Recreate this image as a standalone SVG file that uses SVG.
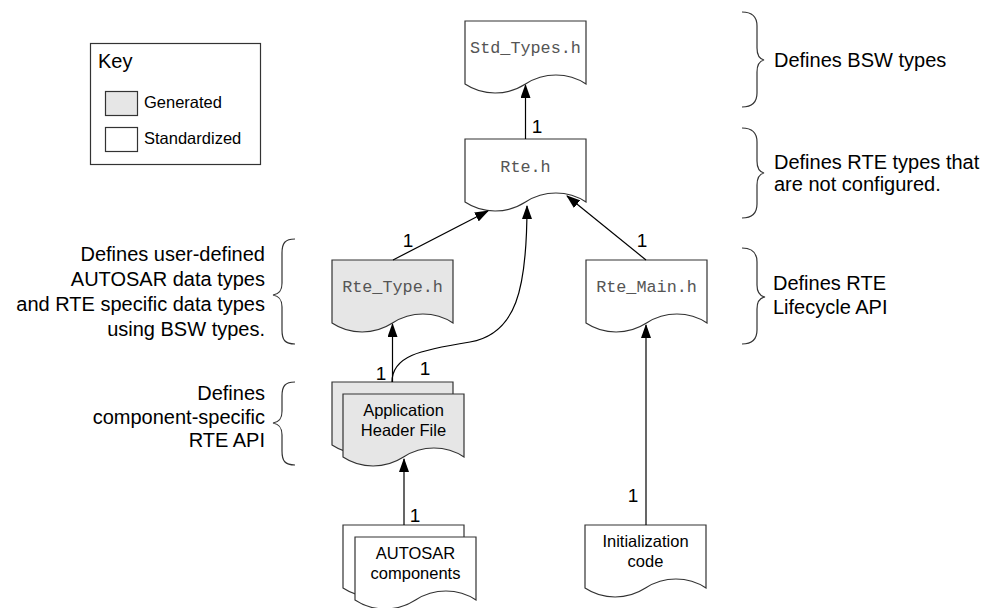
<svg xmlns="http://www.w3.org/2000/svg" width="986" height="608" viewBox="0 0 986 608">
<style>
.doc{stroke:#333;stroke-width:1.2;fill:#fff}
.gen{fill:#e6e6e6}
.mono{font-family:"Liberation Mono","Courier New",monospace;font-size:16.8px;fill:#555;text-anchor:middle}
.sans{font-family:"Liberation Sans",Arial,sans-serif;fill:#000}
.node{font-size:16.5px;text-anchor:middle}
.desc{font-size:20px}
.r{text-anchor:end}
.num{font-family:"Liberation Sans",Arial,sans-serif;font-size:19px;fill:#000;text-anchor:middle}
.conn{stroke:#000;stroke-width:1.2;fill:none;marker-end:url(#ah)}
.brace{stroke:#333;stroke-width:1.2;fill:none}
</style>
<defs>
<marker id="ah" viewBox="0 0 14 10" refX="13" refY="5" markerWidth="14" markerHeight="10" markerUnits="userSpaceOnUse" orient="auto">
<path d="M0,0 L14,5 L0,10 Z" fill="#000"/>
</marker>
</defs>
<rect width="986" height="608" fill="#fff"/>

<g id="key">
<rect x="90.5" y="43.5" width="170" height="121" fill="#fff" stroke="#333" stroke-width="1.2"/>
<text class="sans" x="98" y="68" font-size="20">Key</text>
<rect x="105.5" y="91.5" width="32" height="24" fill="#e6e6e6" stroke="#333" stroke-width="1.2"/>
<text class="sans" x="144" y="108" font-size="16.5">Generated</text>
<rect x="105.5" y="127.5" width="32" height="24" fill="#fff" stroke="#333" stroke-width="1.2"/>
<text class="sans" x="144" y="144" font-size="16.5">Standardized</text>
</g>

<g id="std_types">
<path class="doc" d="M465,21 H586 V84 C568,72 544,72 525.5,84 C507,96 483,96 465,84 Z"/>
<text class="mono" x="525.5" y="53">Std_Types.h</text>
</g>

<g id="rte_h">
<path class="doc" d="M465,139 H586 V202 C568,190 544,190 525.5,202 C507,214 483,214 465,202 Z"/>
<text class="mono" x="525.5" y="172">Rte.h</text>
</g>

<g id="rte_type">
<path class="doc gen" d="M332,260 H453 V323 C435,311 411,311 392.5,323 C374,335 350,335 332,323 Z"/>
<text class="mono" x="392.5" y="292">Rte_Type.h</text>
</g>

<g id="rte_main">
<path class="doc" d="M586,260 H707 V323 C689,311 665,311 646.5,323 C628,335 604,335 586,323 Z"/>
<text class="mono" x="646.5" y="292">Rte_Main.h</text>
</g>

<g id="app_header">
<path class="doc gen" d="M332,382 H453 V445 C435,433 411,433 392.5,445 C374,457 350,457 332,445 Z"/>
<path class="doc gen" d="M343,394 H464 V457 C446,445 422,445 403.5,457 C385,469 361,469 343,457 Z"/>
<text class="sans node" x="403.5" y="416">Application</text>
<text class="sans node" x="403.5" y="436">Header File</text>
</g>

<g id="autosar_components">
<path class="doc" d="M343,525 H464 V588 C446,576 422,576 403.5,588 C385,600 361,600 343,588 Z"/>
<path class="doc" d="M355,537 H476 V600 C458,588 434,588 415.5,600 C397,612 373,612 355,600 Z"/>
<text class="sans node" x="415.5" y="559">AUTOSAR</text>
<text class="sans node" x="415.5" y="579">components</text>
</g>

<g id="init_code">
<path class="doc" d="M585,525 H706 V588 C688,576 664,576 645.5,588 C627,600 603,600 585,588 Z"/>
<text class="sans node" x="645.5" y="547">Initialization</text>
<text class="sans node" x="645.5" y="567">code</text>
</g>

<g id="connectors">
<line class="conn" x1="525.5" y1="139" x2="525.5" y2="85"/>
<line class="conn" x1="393" y1="260" x2="488" y2="211"/>
<line class="conn" x1="646" y1="260" x2="567" y2="196"/>
<path class="conn" d="M392,382 C392,356 420,350 470,342 C516,334 527,290 527,206"/>
<line class="conn" x1="392.5" y1="382" x2="392.5" y2="324"/>
<line class="conn" x1="404" y1="525" x2="404" y2="459"/>
<line class="conn" x1="646" y1="525" x2="646" y2="325"/>
<text class="num" x="537" y="133">1</text>
<text class="num" x="408" y="247">1</text>
<text class="num" x="642" y="247">1</text>
<text class="num" x="381" y="380">1</text>
<text class="num" x="425" y="375">1</text>
<text class="num" x="415" y="522">1</text>
<text class="num" x="633" y="502">1</text>
</g>

<g id="note_bsw">
<path class="brace" d="M742,12 C752,12 757,16 757,26 V48 C757,56 760,59 764,60 C760,61 757,64 757,72 V93 C757,103 752,107 742,107"/>
<text class="sans desc" x="774" y="67">Defines BSW types</text>
</g>

<g id="note_rte">
<path class="brace" d="M742,128 C752,128 757,132 757,142 V161 C757,169 760,172 764,173 C760,174 757,177 757,185 V204 C757,214 752,218 742,218"/>
<text class="sans desc" x="774" y="169">Defines RTE types that</text>
<text class="sans desc" x="774" y="191">are not configured.</text>
</g>

<g id="note_main">
<path class="brace" d="M742,248 C752,248 757,252 757,262 V285 C757,293 760,296 765,297 C760,298 757,301 757,309 V330 C757,340 752,344 742,344"/>
<text class="sans desc" x="773" y="290">Defines RTE</text>
<text class="sans desc" x="773" y="314">Lifecycle API</text>
</g>

<g id="note_type">
<path class="brace" d="M295,239 C285,239 282,243 282,253 V283 C282,291 279,294 273,295 C279,296 282,299 282,307 V330 C282,340 285,344 295,344"/>
<text class="sans desc r" x="265" y="261">Defines user-defined</text>
<text class="sans desc r" x="265" y="286">AUTOSAR data types</text>
<text class="sans desc r" x="265" y="311">and RTE specific data types</text>
<text class="sans desc r" x="265" y="336">using BSW types.</text>
</g>

<g id="note_app">
<path class="brace" d="M295,382 C285,382 282,386 282,396 V411 C282,419 279,422 273,423 C279,424 282,427 282,435 V451 C282,461 285,465 295,465"/>
<text class="sans desc r" x="265" y="400">Defines</text>
<text class="sans desc r" x="265" y="424">component-specific</text>
<text class="sans desc r" x="265" y="447">RTE API</text>
</g>
</svg>
